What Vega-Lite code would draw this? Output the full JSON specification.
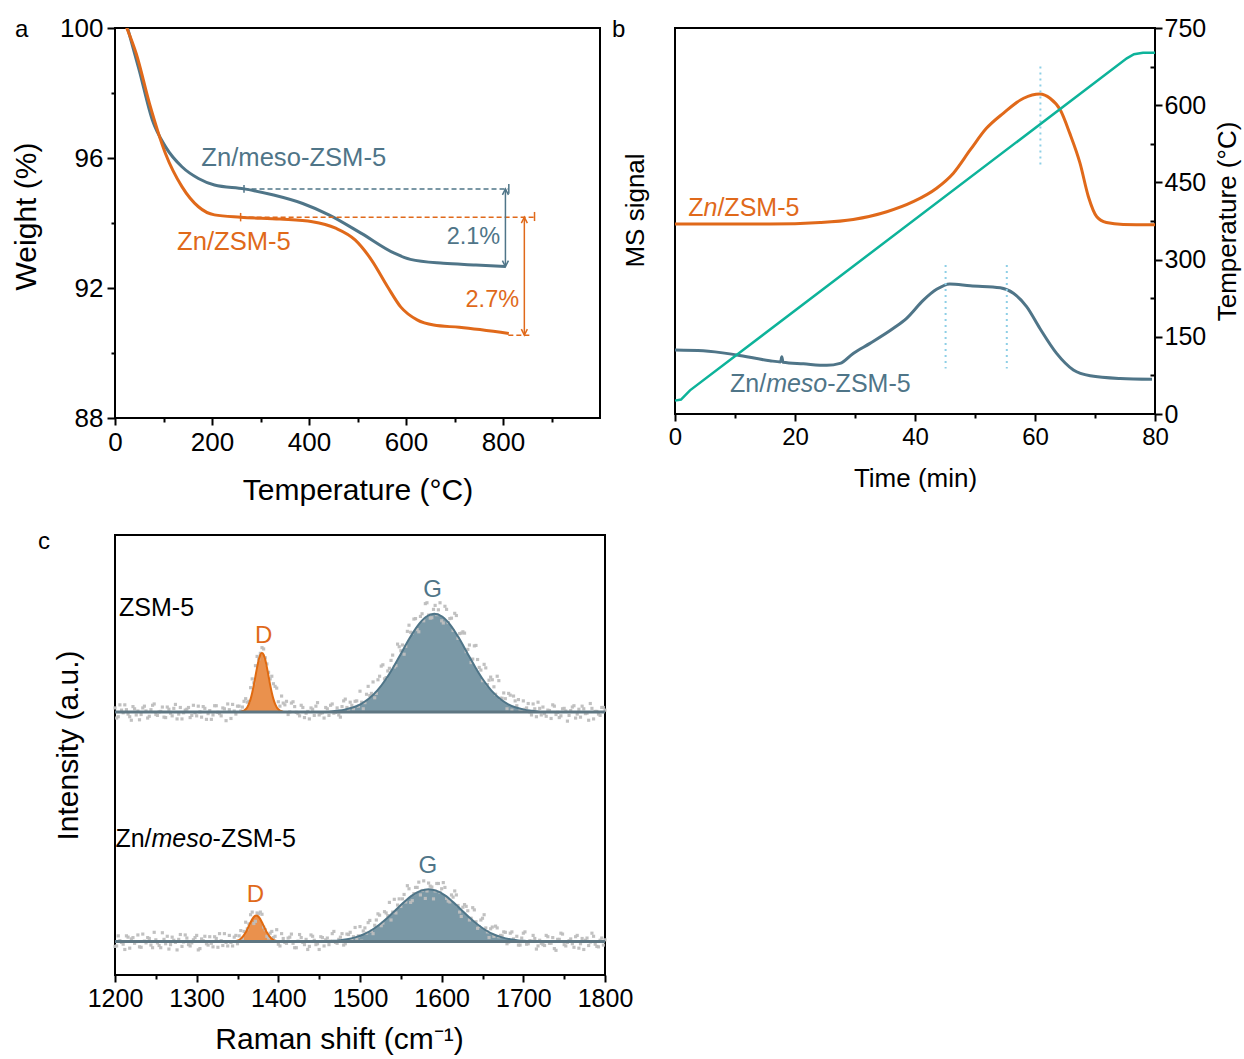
{
"$schema": "https://vega.github.io/schema/vega-lite/v6.json",
"background": "white",
"padding": {"left": 10, "top": 14, "right": 0, "bottom": 0},
"config": {
  "font": "Liberation Sans",
  "view": {"stroke": "black", "strokeWidth": 2},
  "axis": {"grid": false, "domain": false, "labelFont": "Liberation Sans", "titleFont": "Liberation Sans", "labelColor": "black", "titleColor": "black", "tickColor": "black", "tickWidth": 2, "labelFontSize": 24, "titleFontSize": 28, "titleFontWeight": "normal", "labelPadding": 4, "labelOverlap": false, "labelFlush": false},
  "title": {"font": "Liberation Sans", "fontSize": 24, "fontWeight": "normal", "color": "black", "anchor": "start", "frame": "group", "offset": 0, "baseline": "alphabetic"},
  "text": {"font": "Liberation Sans"}
},
"datasets": {
  "tga": [
{"s":"meso","T":25,"W":100.05},{"s":"meso","T":50,"W":98.7},{"s":"meso","T":77,"W":97.17},{"s":"meso","T":104,"W":96.35},{"s":"meso","T":138,"W":95.73},{"s":"meso","T":172,"W":95.37},{"s":"meso","T":205,"W":95.17},{"s":"meso","T":266,"W":95.05},{"s":"meso","T":327,"W":94.86},{"s":"meso","T":387,"W":94.6},{"s":"meso","T":441,"W":94.25},{"s":"meso","T":508,"W":93.68},{"s":"meso","T":576,"W":93.07},{"s":"meso","T":609,"W":92.88},{"s":"meso","T":677,"W":92.76},{"s":"meso","T":744,"W":92.71},{"s":"meso","T":805,"W":92.66},
{"s":"zsm","T":23,"W":100.05},{"s":"zsm","T":44,"W":99.2},{"s":"zsm","T":71,"W":97.68},{"s":"zsm","T":104,"W":96.14},{"s":"zsm","T":138,"W":95.12},{"s":"zsm","T":172,"W":94.5},{"s":"zsm","T":205,"W":94.25},{"s":"zsm","T":259,"W":94.18},{"s":"zsm","T":340,"W":94.12},{"s":"zsm","T":407,"W":94.04},{"s":"zsm","T":455,"W":93.84},{"s":"zsm","T":495,"W":93.48},{"s":"zsm","T":529,"W":92.86},{"s":"zsm","T":562,"W":92.04},{"s":"zsm","T":589,"W":91.42},{"s":"zsm","T":623,"W":91.02},{"s":"zsm","T":657,"W":90.86},{"s":"zsm","T":710,"W":90.79},{"s":"zsm","T":812,"W":90.6}
  ],
  "ms": [
{"s":"zsm","t":0,"v":49.2},{"s":"zsm","t":15.8,"v":49.2},{"s":"zsm","t":24.2,"v":49.6},{"s":"zsm","t":29.7,"v":50.4},{"s":"zsm","t":35.3,"v":52.4},{"s":"zsm","t":39.7,"v":55.0},{"s":"zsm","t":43.6,"v":58.5},{"s":"zsm","t":46.4,"v":62.4},{"s":"zsm","t":49.2,"v":68.4},{"s":"zsm","t":51.9,"v":74.0},{"s":"zsm","t":54.7,"v":77.9},{"s":"zsm","t":58.1,"v":81.8},{"s":"zsm","t":60.8,"v":82.9},{"s":"zsm","t":62.5,"v":81.8},{"s":"zsm","t":64.2,"v":78.8},{"s":"zsm","t":65.8,"v":72.7},{"s":"zsm","t":67.5,"v":65.0},{"s":"zsm","t":68.9,"v":56.3},{"s":"zsm","t":70.3,"v":51.1},{"s":"zsm","t":71.9,"v":49.6},{"s":"zsm","t":74.7,"v":49.1},{"s":"zsm","t":80,"v":49.0},
{"s":"meso","t":0,"v":16.6},{"s":"meso","t":4.7,"v":16.4},{"s":"meso","t":10.3,"v":15.3},{"s":"meso","t":15.8,"v":13.8},{"s":"meso","t":17.6,"v":13.5},{"s":"meso","t":17.8,"v":14.8},{"s":"meso","t":18.0,"v":13.4},{"s":"meso","t":21.4,"v":13.0},{"s":"meso","t":25.3,"v":12.6},{"s":"meso","t":27.5,"v":13.1},{"s":"meso","t":29.7,"v":15.7},{"s":"meso","t":32.5,"v":18.3},{"s":"meso","t":36.4,"v":22.2},{"s":"meso","t":38.6,"v":24.8},{"s":"meso","t":41.4,"v":29.5},{"s":"meso","t":43.6,"v":32.3},{"s":"meso","t":45.8,"v":33.7},{"s":"meso","t":49.2,"v":33.2},{"s":"meso","t":54.2,"v":32.7},{"s":"meso","t":56.4,"v":31.3},{"s":"meso","t":58.6,"v":27.8},{"s":"meso","t":60.8,"v":22.2},{"s":"meso","t":63.6,"v":15.7},{"s":"meso","t":66.4,"v":11.4},{"s":"meso","t":69.2,"v":9.9},{"s":"meso","t":74.2,"v":9.2},{"s":"meso","t":79.5,"v":9.0}
  ],
  "temp": [
{"t":0,"T":26},{"t":1,"T":28},{"t":2.5,"T":46},{"t":75.3,"T":691},{"t":76.5,"T":699},{"t":78,"T":702},{"t":80,"T":702}
  ],
  "peaks": [
{"p":"Dt","x":1354,"y":59.8},{"p":"Dt","x":1356,"y":59.95},{"p":"Dt","x":1358,"y":60.11},{"p":"Dt","x":1360,"y":60.39},{"p":"Dt","x":1362,"y":60.87},{"p":"Dt","x":1364,"y":61.61},{"p":"Dt","x":1366,"y":62.7},{"p":"Dt","x":1368,"y":64.15},{"p":"Dt","x":1370,"y":65.93},{"p":"Dt","x":1372,"y":67.93},{"p":"Dt","x":1374,"y":69.91},{"p":"Dt","x":1376,"y":71.63},{"p":"Dt","x":1378,"y":72.79},{"p":"Dt","x":1380,"y":73.2},{"p":"Dt","x":1382,"y":72.79},{"p":"Dt","x":1384,"y":71.63},{"p":"Dt","x":1386,"y":69.91},{"p":"Dt","x":1388,"y":67.93},{"p":"Dt","x":1390,"y":65.93},{"p":"Dt","x":1392,"y":64.15},{"p":"Dt","x":1394,"y":62.7},{"p":"Dt","x":1396,"y":61.61},{"p":"Dt","x":1398,"y":60.87},{"p":"Dt","x":1400,"y":60.39},{"p":"Dt","x":1402,"y":60.11},{"p":"Dt","x":1404,"y":59.95},{"p":"Dt","x":1406,"y":59.8},
{"p":"Gt","x":1461,"y":59.8},{"p":"Gt","x":1471,"y":60.05},{"p":"Gt","x":1481,"y":60.31},{"p":"Gt","x":1491,"y":60.78},{"p":"Gt","x":1501,"y":61.58},{"p":"Gt","x":1511,"y":62.82},{"p":"Gt","x":1521,"y":64.62},{"p":"Gt","x":1531,"y":67.04},{"p":"Gt","x":1541,"y":70.01},{"p":"Gt","x":1551,"y":73.32},{"p":"Gt","x":1561,"y":76.63},{"p":"Gt","x":1571,"y":79.48},{"p":"Gt","x":1581,"y":81.41},{"p":"Gt","x":1591,"y":82.1},{"p":"Gt","x":1601,"y":81.41},{"p":"Gt","x":1611,"y":79.48},{"p":"Gt","x":1621,"y":76.63},{"p":"Gt","x":1631,"y":73.32},{"p":"Gt","x":1641,"y":70.01},{"p":"Gt","x":1651,"y":67.04},{"p":"Gt","x":1661,"y":64.62},{"p":"Gt","x":1671,"y":62.82},{"p":"Gt","x":1681,"y":61.58},{"p":"Gt","x":1691,"y":60.78},{"p":"Gt","x":1701,"y":60.31},{"p":"Gt","x":1711,"y":60.05},{"p":"Gt","x":1721,"y":59.8},
{"p":"Db","x":1344,"y":7.6},{"p":"Db","x":1346,"y":7.67},{"p":"Db","x":1348.25,"y":7.73},{"p":"Db","x":1350.5,"y":7.86},{"p":"Db","x":1352.75,"y":8.07},{"p":"Db","x":1355,"y":8.4},{"p":"Db","x":1357.25,"y":8.88},{"p":"Db","x":1359.5,"y":9.52},{"p":"Db","x":1361.75,"y":10.3},{"p":"Db","x":1364,"y":11.18},{"p":"Db","x":1366.25,"y":12.05},{"p":"Db","x":1368.5,"y":12.81},{"p":"Db","x":1370.75,"y":13.32},{"p":"Db","x":1373,"y":13.5},{"p":"Db","x":1375.25,"y":13.32},{"p":"Db","x":1377.5,"y":12.81},{"p":"Db","x":1379.75,"y":12.05},{"p":"Db","x":1382,"y":11.18},{"p":"Db","x":1384.25,"y":10.3},{"p":"Db","x":1386.5,"y":9.52},{"p":"Db","x":1388.75,"y":8.88},{"p":"Db","x":1391,"y":8.4},{"p":"Db","x":1393.25,"y":8.07},{"p":"Db","x":1395.5,"y":7.86},{"p":"Db","x":1397.75,"y":7.73},{"p":"Db","x":1400,"y":7.67},{"p":"Db","x":1402,"y":7.6},
{"p":"Gb","x":1454,"y":7.6},{"p":"Gb","x":1464,"y":7.73},{"p":"Gb","x":1474,"y":7.87},{"p":"Gb","x":1484,"y":8.12},{"p":"Gb","x":1494,"y":8.55},{"p":"Gb","x":1504,"y":9.21},{"p":"Gb","x":1514,"y":10.17},{"p":"Gb","x":1524,"y":11.46},{"p":"Gb","x":1534,"y":13.05},{"p":"Gb","x":1544,"y":14.82},{"p":"Gb","x":1554,"y":16.58},{"p":"Gb","x":1564,"y":18.1},{"p":"Gb","x":1574,"y":19.13},{"p":"Gb","x":1584,"y":19.5},{"p":"Gb","x":1594,"y":19.13},{"p":"Gb","x":1604,"y":18.1},{"p":"Gb","x":1614,"y":16.58},{"p":"Gb","x":1624,"y":14.82},{"p":"Gb","x":1634,"y":13.05},{"p":"Gb","x":1644,"y":11.46},{"p":"Gb","x":1654,"y":10.17},{"p":"Gb","x":1664,"y":9.21},{"p":"Gb","x":1674,"y":8.55},{"p":"Gb","x":1684,"y":8.12},{"p":"Gb","x":1694,"y":7.87},{"p":"Gb","x":1704,"y":7.73},{"p":"Gb","x":1714,"y":7.6}
  ],
  "ram": [
{"x":1200,"y":60.7},{"x":1204,"y":58.7},{"x":1208,"y":60.2},{"x":1212,"y":61.4},{"x":1216,"y":59.3},{"x":1220,"y":57.9},{"x":1224,"y":60.5},{"x":1228,"y":60.0},{"x":1232,"y":59.2},{"x":1236,"y":61.1},
{"x":1240,"y":58.4},{"x":1244,"y":60.3},{"x":1248,"y":61.6},{"x":1252,"y":59.0},{"x":1256,"y":59.9},{"x":1260,"y":58.6},{"x":1264,"y":60.9},{"x":1268,"y":59.5},{"x":1272,"y":60.6},{"x":1276,"y":58.2},
{"x":1280,"y":60.8},{"x":1284,"y":59.6},{"x":1288,"y":60.4},{"x":1292,"y":58.5},{"x":1296,"y":61.3},{"x":1300,"y":58.9},{"x":1304,"y":59.8},{"x":1308,"y":61.0},{"x":1312,"y":58.1},{"x":1316,"y":60.1},
{"x":1320,"y":59.1},{"x":1324,"y":61.2},{"x":1328,"y":59.4},{"x":1332,"y":60.7},{"x":1336,"y":57.8},{"x":1340,"y":60.3},{"x":1344,"y":61.5},{"x":1348,"y":59.3},{"x":1352,"y":61.1},{"x":1356,"y":60.9},
{"x":1360,"y":62.8},{"x":1364,"y":62.2},{"x":1368,"y":67.3},{"x":1372,"y":70.3},{"x":1376,"y":71.8},{"x":1380,"y":74.4},{"x":1384,"y":72.1},{"x":1388,"y":68.8},{"x":1392,"y":67.9},{"x":1396,"y":65.6},
{"x":1400,"y":62.1},{"x":1404,"y":63.4},{"x":1408,"y":61.4},{"x":1412,"y":59.2},{"x":1416,"y":61.8},{"x":1420,"y":61.0},{"x":1424,"y":59.4},{"x":1428,"y":61.3},{"x":1432,"y":58.5},{"x":1436,"y":59.9},
{"x":1440,"y":60.7},{"x":1444,"y":59.0},{"x":1448,"y":61.9},{"x":1452,"y":59.5},{"x":1456,"y":58.4},{"x":1460,"y":60.5},{"x":1464,"y":61.3},{"x":1468,"y":59.5},{"x":1472,"y":60.7},{"x":1476,"y":58.6},
{"x":1480,"y":62.3},{"x":1484,"y":60.8},{"x":1488,"y":62.0},{"x":1492,"y":60.5},{"x":1496,"y":62.3},{"x":1500,"y":64.5},{"x":1504,"y":60.5},{"x":1508,"y":63.8},{"x":1512,"y":63.5},{"x":1516,"y":66.6},
{"x":1520,"y":64.0},{"x":1524,"y":67.9},{"x":1528,"y":70.5},{"x":1532,"y":67.6},{"x":1536,"y":69.7},{"x":1540,"y":72.7},{"x":1544,"y":70.3},{"x":1548,"y":74.6},{"x":1552,"y":75.0},{"x":1556,"y":74.7},
{"x":1560,"y":79.5},{"x":1564,"y":77.7},{"x":1568,"y":81.0},{"x":1572,"y":78.0},{"x":1576,"y":82.1},{"x":1580,"y":84.4},{"x":1584,"y":81.8},{"x":1588,"y":81.2},{"x":1592,"y":84.0},{"x":1596,"y":83.0},
{"x":1600,"y":80.5},{"x":1604,"y":83.8},{"x":1608,"y":80.1},{"x":1612,"y":81.1},{"x":1616,"y":82.2},{"x":1620,"y":76.5},{"x":1624,"y":77.7},{"x":1628,"y":77.7},{"x":1632,"y":74.0},{"x":1636,"y":71.0},
{"x":1640,"y":74.8},{"x":1644,"y":71.7},{"x":1648,"y":69.3},{"x":1652,"y":70.6},{"x":1656,"y":66.0},{"x":1660,"y":67.7},{"x":1664,"y":65.5},{"x":1668,"y":67.9},{"x":1672,"y":62.9},{"x":1676,"y":64.1},
{"x":1680,"y":60.5},{"x":1684,"y":63.6},{"x":1688,"y":63.4},{"x":1692,"y":61.2},{"x":1696,"y":60.1},{"x":1700,"y":62.3},{"x":1704,"y":60.7},{"x":1708,"y":59.8},{"x":1712,"y":61.6},{"x":1716,"y":58.7},
{"x":1720,"y":60.6},{"x":1724,"y":60.9},{"x":1728,"y":58.8},{"x":1732,"y":60.1},{"x":1736,"y":61.4},{"x":1740,"y":59.2},{"x":1744,"y":58.5},{"x":1748,"y":60.5},{"x":1752,"y":60.0},{"x":1756,"y":59.0},
{"x":1760,"y":60.9},{"x":1764,"y":58.4},{"x":1768,"y":60.4},{"x":1772,"y":61.1},{"x":1776,"y":59.4},{"x":1780,"y":57.9},{"x":1784,"y":60.6},{"x":1788,"y":59.9},{"x":1792,"y":59.3},{"x":1796,"y":60.8},{"x":1800,"y":60.2},
{"x":1202,"y":58.4},{"x":1206,"y":61.4},{"x":1210,"y":59.6},{"x":1214,"y":60.3},{"x":1218,"y":58.7},{"x":1222,"y":61.0},{"x":1226,"y":59.1},{"x":1230,"y":58.0},{"x":1234,"y":60.7},{"x":1238,"y":60.0},
{"x":1242,"y":58.8},{"x":1246,"y":61.3},{"x":1250,"y":59.2},{"x":1254,"y":59.8},{"x":1258,"y":60.9},{"x":1262,"y":58.5},{"x":1266,"y":60.4},{"x":1270,"y":58.9},{"x":1274,"y":61.5},{"x":1278,"y":59.3},
{"x":1282,"y":58.2},{"x":1286,"y":60.2},{"x":1290,"y":60.8},{"x":1294,"y":59.0},{"x":1298,"y":59.6},{"x":1302,"y":61.1},{"x":1306,"y":58.6},{"x":1310,"y":60.6},{"x":1314,"y":59.4},{"x":1318,"y":58.1},
{"x":1322,"y":61.2},{"x":1326,"y":59.7},{"x":1330,"y":58.9},{"x":1334,"y":60.5},{"x":1338,"y":61.6},{"x":1342,"y":58.3},{"x":1346,"y":60.0},{"x":1350,"y":61.1},{"x":1354,"y":60.0},{"x":1358,"y":62.2},
{"x":1362,"y":62.0},{"x":1366,"y":65.3},{"x":1370,"y":66.4},{"x":1374,"y":72.4},{"x":1378,"y":73.1},{"x":1382,"y":74.1},{"x":1386,"y":70.7},{"x":1390,"y":67.3},{"x":1394,"y":66.2},{"x":1398,"y":65.2},
{"x":1402,"y":61.1},{"x":1406,"y":61.8},{"x":1410,"y":62.2},{"x":1414,"y":59.8},{"x":1418,"y":62.1},{"x":1422,"y":59.7},{"x":1426,"y":58.9},{"x":1430,"y":60.8},{"x":1434,"y":59.5},{"x":1438,"y":58.2},
{"x":1442,"y":60.4},{"x":1446,"y":61.1},{"x":1450,"y":59.1},{"x":1454,"y":59.6},{"x":1458,"y":60.8},{"x":1462,"y":59.0},{"x":1466,"y":61.6},{"x":1470,"y":59.7},{"x":1474,"y":59.1},{"x":1478,"y":61.0},
{"x":1482,"y":62.7},{"x":1486,"y":60.3},{"x":1490,"y":61.3},{"x":1494,"y":62.2},{"x":1498,"y":61.1},{"x":1502,"y":62.0},{"x":1506,"y":61.9},{"x":1510,"y":65.6},{"x":1514,"y":64.0},{"x":1518,"y":63.0},
{"x":1522,"y":67.1},{"x":1526,"y":70.2},{"x":1530,"y":67.3},{"x":1534,"y":69.1},{"x":1538,"y":71.5},{"x":1542,"y":70.0},{"x":1546,"y":75.2},{"x":1550,"y":73.7},{"x":1554,"y":72.9},{"x":1558,"y":78.1},
{"x":1562,"y":77.9},{"x":1566,"y":80.9},{"x":1570,"y":78.5},{"x":1574,"y":81.5},{"x":1578,"y":80.5},{"x":1582,"y":84.6},{"x":1586,"y":81.1},{"x":1590,"y":83.1},{"x":1594,"y":81.9},{"x":1598,"y":84.6},
{"x":1602,"y":80.0},{"x":1606,"y":83.1},{"x":1610,"y":81.0},{"x":1614,"y":78.3},{"x":1618,"y":81.7},{"x":1622,"y":77.6},{"x":1626,"y":78.0},{"x":1630,"y":73.5},{"x":1634,"y":75.0},{"x":1638,"y":71.8},
{"x":1642,"y":74.9},{"x":1646,"y":69.9},{"x":1650,"y":66.9},{"x":1654,"y":69.8},{"x":1658,"y":67.0},{"x":1662,"y":67.1},{"x":1666,"y":63.8},{"x":1670,"y":66.9},{"x":1674,"y":62.9},{"x":1678,"y":62.8},
{"x":1682,"y":64.0},{"x":1686,"y":60.2},{"x":1690,"y":62.3},{"x":1694,"y":62.6},{"x":1698,"y":60.3},{"x":1702,"y":60.4},{"x":1706,"y":61.7},{"x":1710,"y":59.1},{"x":1714,"y":60.5},{"x":1718,"y":62.0},
{"x":1722,"y":59.1},{"x":1726,"y":59.4},{"x":1730,"y":60.2},{"x":1734,"y":58.3},{"x":1738,"y":61.1},{"x":1742,"y":59.7},{"x":1746,"y":58.9},{"x":1750,"y":60.6},{"x":1754,"y":57.7},{"x":1758,"y":60.1},
{"x":1762,"y":61.2},{"x":1766,"y":59.3},{"x":1770,"y":58.6},{"x":1774,"y":60.5},{"x":1778,"y":59.5},{"x":1782,"y":61.7},{"x":1786,"y":58.2},{"x":1790,"y":59.9},{"x":1794,"y":59.0},{"x":1798,"y":60.8},
{"x":1200,"y":6.5},{"x":1204,"y":8.9},{"x":1208,"y":7.4},{"x":1212,"y":5.8},{"x":1216,"y":8.6},{"x":1220,"y":8.2},{"x":1224,"y":7.2},{"x":1228,"y":9.1},{"x":1232,"y":6.3},{"x":1236,"y":7.7},
{"x":1240,"y":8.5},{"x":1244,"y":6.8},{"x":1248,"y":9.7},{"x":1252,"y":7.3},{"x":1256,"y":6.2},{"x":1260,"y":8.1},{"x":1264,"y":8.8},{"x":1268,"y":6.9},{"x":1272,"y":7.9},{"x":1276,"y":5.7},
{"x":1280,"y":9.2},{"x":1284,"y":7.5},{"x":1288,"y":8.4},{"x":1292,"y":6.6},{"x":1296,"y":8.0},{"x":1300,"y":9.0},{"x":1304,"y":6.0},{"x":1308,"y":7.8},{"x":1312,"y":7.1},{"x":1316,"y":8.7},
{"x":1320,"y":6.4},{"x":1324,"y":8.3},{"x":1328,"y":9.4},{"x":1332,"y":6.7},{"x":1336,"y":7.4},{"x":1340,"y":9.0},{"x":1344,"y":6.6},{"x":1348,"y":9.0},{"x":1352,"y":8.9},{"x":1356,"y":8.3},
{"x":1360,"y":12.0},{"x":1364,"y":11.6},{"x":1368,"y":14.3},{"x":1372,"y":12.2},{"x":1376,"y":13.9},{"x":1380,"y":13.8},{"x":1384,"y":10.3},{"x":1388,"y":8.4},{"x":1392,"y":9.9},{"x":1396,"y":8.8},
{"x":1400,"y":7.0},{"x":1404,"y":9.4},{"x":1408,"y":7.4},{"x":1412,"y":8.4},{"x":1416,"y":9.3},{"x":1420,"y":6.2},{"x":1424,"y":7.7},{"x":1428,"y":8.5},{"x":1432,"y":6.9},{"x":1436,"y":5.8},
{"x":1440,"y":9.1},{"x":1444,"y":7.9},{"x":1448,"y":7.1},{"x":1452,"y":8.7},{"x":1456,"y":6.6},{"x":1460,"y":8.4},{"x":1464,"y":7.7},{"x":1468,"y":9.9},{"x":1472,"y":7.2},{"x":1476,"y":8.6},
{"x":1480,"y":6.8},{"x":1484,"y":9.3},{"x":1488,"y":9.7},{"x":1492,"y":8.7},{"x":1496,"y":8.2},{"x":1500,"y":11.0},{"x":1504,"y":10.0},{"x":1508,"y":9.5},{"x":1512,"y":12.4},{"x":1516,"y":9.4},
{"x":1520,"y":12.5},{"x":1524,"y":13.6},{"x":1528,"y":11.8},{"x":1532,"y":14.1},{"x":1536,"y":16.5},{"x":1540,"y":14.3},{"x":1544,"y":14.1},{"x":1548,"y":17.3},{"x":1552,"y":17.3},{"x":1556,"y":16.6},
{"x":1560,"y":19.6},{"x":1564,"y":16.9},{"x":1568,"y":19.9},{"x":1572,"y":21.1},{"x":1576,"y":19.2},{"x":1580,"y":17.4},{"x":1584,"y":20.9},{"x":1588,"y":20.0},{"x":1592,"y":19.1},{"x":1596,"y":20.8},
{"x":1600,"y":19.6},{"x":1604,"y":19.9},{"x":1608,"y":16.8},{"x":1612,"y":18.2},{"x":1616,"y":19.1},{"x":1620,"y":15.8},{"x":1624,"y":13.3},{"x":1628,"y":16.0},{"x":1632,"y":14.6},{"x":1636,"y":12.9},
{"x":1640,"y":14.8},{"x":1644,"y":10.6},{"x":1648,"y":12.5},{"x":1652,"y":13.7},{"x":1656,"y":9.8},{"x":1660,"y":10.5},{"x":1664,"y":8.8},{"x":1668,"y":10.7},{"x":1672,"y":9.0},{"x":1676,"y":9.8},
{"x":1680,"y":7.1},{"x":1684,"y":9.5},{"x":1688,"y":8.2},{"x":1692,"y":8.8},{"x":1696,"y":6.8},{"x":1700,"y":9.5},{"x":1704,"y":7.0},{"x":1708,"y":7.8},{"x":1712,"y":9.0},{"x":1716,"y":5.9},
{"x":1720,"y":7.9},{"x":1724,"y":6.9},{"x":1728,"y":9.0},{"x":1732,"y":7.2},{"x":1736,"y":8.5},{"x":1740,"y":5.6},{"x":1744,"y":8.1},{"x":1748,"y":9.3},{"x":1752,"y":6.6},{"x":1756,"y":7.8},
{"x":1760,"y":7.1},{"x":1764,"y":8.7},{"x":1768,"y":6.1},{"x":1772,"y":8.3},{"x":1776,"y":7.9},{"x":1780,"y":6.7},{"x":1784,"y":9.5},{"x":1788,"y":7.0},{"x":1792,"y":6.4},{"x":1796,"y":8.4},{"x":1800,"y":8.0},
{"x":1202,"y":6.6},{"x":1206,"y":7.8},{"x":1210,"y":7.0},{"x":1214,"y":8.9},{"x":1218,"y":6.1},{"x":1222,"y":8.5},{"x":1226,"y":7.6},{"x":1230,"y":6.4},{"x":1234,"y":9.3},{"x":1238,"y":7.3},
{"x":1242,"y":8.3},{"x":1246,"y":6.2},{"x":1250,"y":8.0},{"x":1254,"y":6.7},{"x":1258,"y":9.6},{"x":1262,"y":7.1},{"x":1266,"y":5.9},{"x":1270,"y":8.6},{"x":1274,"y":7.4},{"x":1278,"y":8.1},
{"x":1282,"y":6.5},{"x":1286,"y":9.1},{"x":1290,"y":6.9},{"x":1294,"y":7.3},{"x":1298,"y":8.5},{"x":1302,"y":5.7},{"x":1306,"y":8.2},{"x":1310,"y":8.8},{"x":1314,"y":6.8},{"x":1318,"y":7.2},
{"x":1322,"y":8.7},{"x":1326,"y":6.3},{"x":1330,"y":7.8},{"x":1334,"y":9.4},{"x":1338,"y":6.6},{"x":1342,"y":7.4},{"x":1346,"y":8.6},{"x":1350,"y":7.1},{"x":1354,"y":10.1},{"x":1358,"y":9.9},
{"x":1362,"y":10.5},{"x":1366,"y":13.7},{"x":1370,"y":11.7},{"x":1374,"y":14.1},{"x":1378,"y":14.3},{"x":1382,"y":10.9},{"x":1386,"y":8.8},{"x":1390,"y":9.5},{"x":1394,"y":8.5},{"x":1398,"y":10.3},
{"x":1402,"y":6.6},{"x":1406,"y":8.3},{"x":1410,"y":7.2},{"x":1414,"y":8.6},{"x":1418,"y":7.2},{"x":1422,"y":6.2},{"x":1426,"y":9.2},{"x":1430,"y":7.4},{"x":1434,"y":8.1},{"x":1438,"y":6.5},
{"x":1442,"y":8.8},{"x":1446,"y":6.9},{"x":1450,"y":5.8},{"x":1454,"y":8.5},{"x":1458,"y":8.0},{"x":1462,"y":6.9},{"x":1466,"y":9.4},{"x":1470,"y":7.4},{"x":1474,"y":8.1},{"x":1478,"y":9.4},
{"x":1482,"y":7.1},{"x":1486,"y":9.2},{"x":1490,"y":8.0},{"x":1494,"y":10.8},{"x":1498,"y":8.9},{"x":1502,"y":7.7},{"x":1506,"y":10.7},{"x":1510,"y":11.9},{"x":1514,"y":10.0},{"x":1518,"y":11.3},
{"x":1522,"y":13.9},{"x":1526,"y":11.2},{"x":1530,"y":14.4},{"x":1534,"y":13.5},{"x":1538,"y":12.5},{"x":1542,"y":17.2},{"x":1546,"y":15.9},{"x":1550,"y":15.6},{"x":1554,"y":18.3},{"x":1558,"y":20.3},
{"x":1562,"y":16.5},{"x":1566,"y":18.5},{"x":1570,"y":19.9},{"x":1574,"y":18.2},{"x":1578,"y":21.4},{"x":1582,"y":19.1},{"x":1586,"y":20.2},{"x":1590,"y":17.3},{"x":1594,"y":20.8},{"x":1598,"y":18.8},
{"x":1602,"y":21.0},{"x":1606,"y":17.4},{"x":1610,"y":16.6},{"x":1614,"y":17.7},{"x":1618,"y":18.2},{"x":1622,"y":14.3},{"x":1626,"y":15.4},{"x":1630,"y":15.6},{"x":1634,"y":12.5},{"x":1638,"y":15.3},
{"x":1642,"y":12.1},{"x":1646,"y":11.0},{"x":1650,"y":12.9},{"x":1654,"y":10.7},{"x":1658,"y":8.5},{"x":1662,"y":10.9},{"x":1666,"y":11.1},{"x":1670,"y":8.7},{"x":1674,"y":8.9},{"x":1678,"y":9.7},
{"x":1682,"y":7.5},{"x":1686,"y":9.8},{"x":1690,"y":7.7},{"x":1694,"y":6.8},{"x":1698,"y":8.4},{"x":1702,"y":9.8},{"x":1706,"y":7.1},{"x":1710,"y":7.7},{"x":1714,"y":8.3},{"x":1718,"y":6.6},
{"x":1722,"y":7.2},{"x":1726,"y":6.7},{"x":1730,"y":8.7},{"x":1734,"y":7.2},{"x":1738,"y":6.0},{"x":1742,"y":8.1},{"x":1746,"y":9.5},{"x":1750,"y":6.9},{"x":1754,"y":7.4},{"x":1758,"y":8.2},
{"x":1762,"y":6.3},{"x":1766,"y":9.0},{"x":1770,"y":7.1},{"x":1774,"y":5.8},{"x":1778,"y":8.4},{"x":1782,"y":7.5},{"x":1786,"y":8.8},{"x":1790,"y":6.5},{"x":1794,"y":7.9},{"x":1798,"y":6.8}
  ]
},
"bounds": "flush",
"columns": 2,
"spacing": {"row": 117, "column": 70},
"concat": [
 {
  "width": 485, "height": 390,
  "title": {"text": "a", "dx": -100, "dy": 31},
  "layer": [
   {"data": {"name": "tga"},
    "mark": {"type": "line", "strokeWidth": 3, "interpolate": "monotone", "clip": true},
    "encoding": {
      "x": {"field": "T", "type": "quantitative", "scale": {"domain": [0, 980]},
            "axis": {"title": "Temperature (°C)", "values": [0,100,200,300,400,500,600,700,800,900], "labelExpr": "datum.value % 200 === 0 ? datum.label : ''", "tickSize": {"condition": {"test": "datum.value % 200 === 0", "value": 7}, "value": 4}, "labelFontSize": 26, "titleFontSize": 30, "titlePadding": 20}},
      "y": {"field": "W", "type": "quantitative", "scale": {"domain": [88, 100]},
            "axis": {"title": "Weight (%)", "values": [88,90,92,94,96,98,100], "labelExpr": "datum.value % 4 === 0 ? datum.label : ''", "tickSize": {"condition": {"test": "datum.value % 4 === 0", "value": 8}, "value": 4}, "labelFontSize": 26, "titleFontSize": 30, "titlePadding": 18, "titleY": 188}},
      "color": {"field": "s", "type": "nominal", "scale": {"domain": ["meso","zsm"], "range": ["#4F7588","#E0691A"]}, "legend": null}
    }},
   {"data": {"values": [{"s":"meso","x":265,"x2":812,"y":95.05},{"s":"zsm","x":259,"x2":866,"y":94.18},{"s":"zsm","x":811,"x2":856,"y":90.55}]},
    "mark": {"type": "rule", "strokeWidth": 1.5, "strokeDash": [5, 3]},
    "encoding": {"x": {"field": "x", "type": "quantitative"}, "x2": {"field": "x2"}, "y": {"field": "y", "type": "quantitative"}, "color": {"field": "s", "type": "nominal", "legend": null}}},
   {"data": {"values": [{"s":"meso","x":805,"y":95.05,"y2":92.66},{"s":"zsm","x":844,"y":94.18,"y2":90.55},{"s":"meso","x":266,"y":95.17,"y2":94.93},{"s":"meso","x":812,"y":95.2,"y2":94.9},{"s":"zsm","x":259,"y":94.31,"y2":94.05},{"s":"zsm","x":865,"y":94.34,"y2":94.06}]},
    "mark": {"type": "rule", "strokeWidth": 1.5},
    "encoding": {"x": {"field": "x", "type": "quantitative"}, "y": {"field": "y", "type": "quantitative"}, "y2": {"field": "y2"}, "color": {"field": "s", "type": "nominal", "legend": null}}},
   {"data": {"values": [{"s":"meso","x":805,"y":95.05},{"s":"zsm","x":844,"y":94.18}]},
    "mark": {"type": "point", "shape": "M-1,2L0,0L1,2", "filled": false, "size": 36, "strokeWidth": 1.5, "opacity": 1},
    "encoding": {"x": {"field": "x", "type": "quantitative"}, "y": {"field": "y", "type": "quantitative"}, "color": {"field": "s", "type": "nominal", "legend": null}}},
   {"data": {"values": [{"s":"meso","x":805,"y":92.66},{"s":"zsm","x":844,"y":90.55}]},
    "mark": {"type": "point", "shape": "M-1,-2L0,0L1,-2", "filled": false, "size": 36, "strokeWidth": 1.5, "opacity": 1},
    "encoding": {"x": {"field": "x", "type": "quantitative"}, "y": {"field": "y", "type": "quantitative"}, "color": {"field": "s", "type": "nominal", "legend": null}}},
   {"data": {"values": [{"s":"meso","x":178,"y":95.75,"t":"Zn/meso-ZSM-5"},{"s":"zsm","x":128,"y":93.17,"t":"Zn/ZSM-5"}]},
    "mark": {"type": "text", "align": "left", "baseline": "alphabetic", "fontSize": 25.6},
    "encoding": {"x": {"field": "x", "type": "quantitative"}, "y": {"field": "y", "type": "quantitative"}, "text": {"field": "t"}, "color": {"field": "s", "type": "nominal", "legend": null}}},
   {"data": {"values": [{"s":"meso","x":739,"y":93.35,"t":"2.1%"},{"s":"zsm","x":778,"y":91.42,"t":"2.7%"}]},
    "mark": {"type": "text", "align": "center", "baseline": "alphabetic", "fontSize": 23.5},
    "encoding": {"x": {"field": "x", "type": "quantitative"}, "y": {"field": "y", "type": "quantitative"}, "text": {"field": "t"}, "color": {"field": "s", "type": "nominal", "legend": null}}}
  ]
 },
 {
  "width": 480, "height": 386,
  "title": {"text": "b", "dx": -63, "dy": 30},
  "layer": [
   {"layer": [
     {"data": {"name": "ms"},
      "mark": {"type": "line", "strokeWidth": 3, "interpolate": "monotone", "clip": true},
      "encoding": {
        "x": {"field": "t", "type": "quantitative", "scale": {"domain": [0, 80]},
              "axis": {"title": "Time (min)", "values": [0,10,20,30,40,50,60,70,80], "labelExpr": "datum.value % 20 === 0 ? datum.label : ''", "tickSize": {"condition": {"test": "datum.value % 20 === 0", "value": 7}, "value": 4}, "titleFontSize": 26, "titlePadding": 16}},
        "y": {"field": "v", "type": "quantitative", "scale": {"domain": [0, 100]},
              "axis": {"title": "MS signal", "ticks": false, "labels": false, "titleFontSize": 26, "titlePadding": 27, "titleY": 182}},
        "color": {"field": "s", "type": "nominal", "scale": {"domain": ["meso","zsm"], "range": ["#4F7588","#E0691A"]}, "legend": null}
      }},
     {"data": {"values": [{"x":60.9,"y":90,"y2":63.7},{"x":45.1,"y":38.6,"y2":11.8},{"x":55.3,"y":38.6,"y2":11.8}]},
      "mark": {"type": "rule", "color": "#8ECFE6", "strokeWidth": 2, "strokeDash": [2, 4]},
      "encoding": {"x": {"field": "x", "type": "quantitative"}, "y": {"field": "y", "type": "quantitative"}, "y2": {"field": "y2"}}},
     {"data": {"values": [{"s":"zsm","x":2.2,"y":51.3,"t":"Z"},{"s":"zsm","x":7.07,"y":51.3,"t":"/ZSM-5"},{"s":"meso","x":9.17,"y":5.8,"t":"Zn/"},{"s":"meso","x":25.38,"y":5.8,"t":"-ZSM-5"}]},
      "mark": {"type": "text", "align": "left", "baseline": "alphabetic", "fontSize": 25},
      "encoding": {"x": {"field": "x", "type": "quantitative"}, "y": {"field": "y", "type": "quantitative"}, "text": {"field": "t"}, "color": {"field": "s", "type": "nominal", "legend": null}}},
     {"data": {"values": [{"s":"zsm","x":4.75,"y":51.3,"t":"n"},{"s":"meso","x":15.19,"y":5.8,"t":"meso"}]},
      "mark": {"type": "text", "align": "left", "baseline": "alphabetic", "fontSize": 25, "fontStyle": "italic"},
      "encoding": {"x": {"field": "x", "type": "quantitative"}, "y": {"field": "y", "type": "quantitative"}, "text": {"field": "t"}, "color": {"field": "s", "type": "nominal", "legend": null}}}
   ]},
   {"data": {"name": "temp"},
    "mark": {"type": "line", "strokeWidth": 2.5, "color": "#0DB39A", "interpolate": "linear"},
    "encoding": {
      "x": {"field": "t", "type": "quantitative"},
      "y": {"field": "T", "type": "quantitative", "scale": {"domain": [0, 750]},
            "axis": {"orient": "right", "title": "Temperature (°C)", "titleAngle": -90, "titleBaseline": "top", "values": [0,75,150,225,300,375,450,525,600,675,750], "labelExpr": "datum.value % 150 === 0 ? datum.label : ''", "tickSize": {"condition": {"test": "datum.value % 150 === 0", "value": 7}, "value": -5}, "labelFontSize": 25, "labelPadding": 2, "titlePadding": 9, "titleFontSize": 26}}
    }}
  ],
  "resolve": {"scale": {"y": "independent"}}
 },
 {
  "width": 490, "height": 440,
  "title": {"text": "c", "dx": -77, "dy": 23},
  "layer": [
   {"data": {"name": "peaks"},
    "transform": [{"filter": {"field": "p", "oneOf": ["Dt","Gt"]}}],
    "mark": {"type": "area", "opacity": 0.9},
    "encoding": {
      "x": {"field": "x", "type": "quantitative", "scale": {"domain": [1200, 1800]},
            "axis": {"title": "Raman shift (cm⁻¹)", "format": "d", "values": [1200,1250,1300,1350,1400,1450,1500,1550,1600,1650,1700,1750,1800], "labelExpr": "datum.value % 100 === 0 ? datum.label : ''", "tickSize": {"condition": {"test": "datum.value % 100 === 0", "value": 7}, "value": 4}, "labelFontSize": 25, "titleFontSize": 30, "titlePadding": 13, "titleX": 224}},
      "y": {"field": "y", "type": "quantitative", "scale": {"domain": [0, 100]},
            "axis": {"title": "Intensity (a.u.)", "ticks": false, "labels": false, "titleFontSize": 30, "titlePadding": 32, "titleY": 210}},
      "y2": {"datum": 59.8},
      "fill": {"field": "p", "type": "nominal", "scale": {"domain": ["Dt","Gt","Db","Gb"], "range": ["#E8853A","#6C8D9C","#E8853A","#6C8D9C"]}, "legend": null}
    }},
   {"data": {"name": "peaks"},
    "transform": [{"filter": {"field": "p", "oneOf": ["Db","Gb"]}}],
    "mark": {"type": "area", "opacity": 0.9},
    "encoding": {
      "x": {"field": "x", "type": "quantitative"},
      "y": {"field": "y", "type": "quantitative"},
      "y2": {"datum": 7.6},
      "fill": {"field": "p", "type": "nominal", "legend": null}
    }},
   {"data": {"name": "ram"},
    "mark": {"type": "square", "size": 10, "color": "#BEBEBE", "opacity": 0.95},
    "encoding": {"x": {"field": "x", "type": "quantitative"}, "y": {"field": "y", "type": "quantitative"}}},
   {"data": {"name": "peaks"},
    "mark": {"type": "line", "strokeWidth": 2, "interpolate": "monotone"},
    "encoding": {
      "x": {"field": "x", "type": "quantitative"},
      "y": {"field": "y", "type": "quantitative"},
      "stroke": {"field": "p", "type": "nominal", "scale": {"domain": ["Dt","Gt","Db","Gb"], "range": ["#E06A10","#4F7588","#E06A10","#4F7588"]}, "legend": null}
    }},
   {"data": {"values": [{"y": 59.8}, {"y": 7.6}]},
    "mark": {"type": "rule", "color": "#5E7682", "strokeWidth": 3},
    "encoding": {"y": {"field": "y", "type": "quantitative"}}},
   {"data": {"values": [{"x":1205,"y":81.7,"t":"ZSM-5"},{"x":1200.5,"y":29.0,"t":"Zn/"},{"x":1319.5,"y":29.0,"t":"-ZSM-5"}]},
    "mark": {"type": "text", "align": "left", "baseline": "alphabetic", "fontSize": 25, "color": "black"},
    "encoding": {"x": {"field": "x", "type": "quantitative"}, "y": {"field": "y", "type": "quantitative"}, "text": {"field": "t"}}},
   {"data": {"values": [{"x":1244.7,"y":29.0,"t":"meso"}]},
    "mark": {"type": "text", "align": "left", "baseline": "alphabetic", "fontSize": 25, "fontStyle": "italic", "color": "black"},
    "encoding": {"x": {"field": "x", "type": "quantitative"}, "y": {"field": "y", "type": "quantitative"}, "text": {"field": "t"}}},
   {"data": {"values": [{"x":1382,"y":75.4,"t":"D","k":"zsm"},{"x":1372,"y":16.7,"t":"D","k":"zsm"},{"x":1589,"y":86.0,"t":"G","k":"meso"},{"x":1583,"y":23.1,"t":"G","k":"meso"}]},
    "mark": {"type": "text", "align": "center", "baseline": "alphabetic", "fontSize": 24},
    "encoding": {"x": {"field": "x", "type": "quantitative"}, "y": {"field": "y", "type": "quantitative"}, "text": {"field": "t"}, "color": {"field": "k", "type": "nominal", "scale": {"domain": ["meso","zsm"], "range": ["#4F7588","#E0691A"]}, "legend": null}}}
  ]
 }
]
}
